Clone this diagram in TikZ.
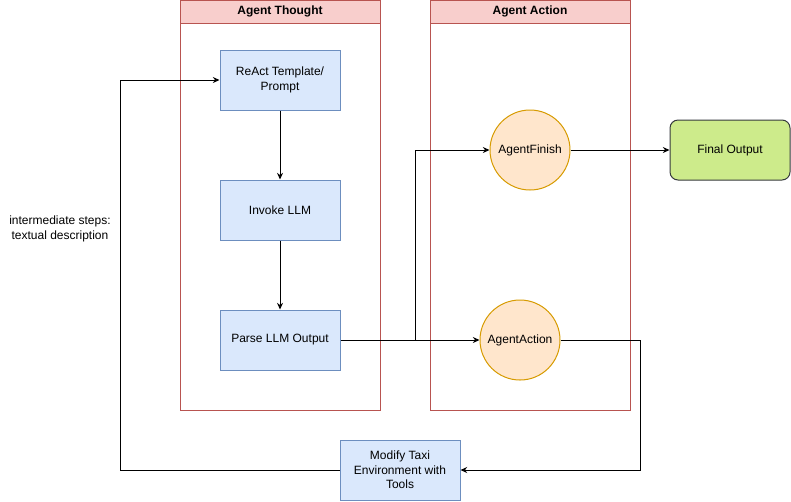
\documentclass[tikz,border=0pt]{standalone}
\usepackage{fontspec}
\setmainfont{Liberation Sans}
\usetikzlibrary{arrows.meta}
\definecolor{boxfill}{HTML}{DAE8FC}
\definecolor{boxline}{HTML}{6C8EBF}
\definecolor{laneline}{HTML}{B85450}
\definecolor{lanehead}{HTML}{F8CECC}
\definecolor{circfill}{HTML}{FFE6CC}
\definecolor{circline}{HTML}{D79B00}
\definecolor{outfill}{HTML}{CDEB8B}
\definecolor{outline}{HTML}{36393D}
\begin{document}
\begin{tikzpicture}[x=0.75pt, y=-0.75pt, font=\fontsize{9}{11}\selectfont,
  lane/.style={draw=laneline, line width=0.75pt, minimum width=150pt, minimum height=307.5pt, inner sep=0pt},
  lanetitle/.style={draw=laneline, fill=lanehead, line width=0.75pt, minimum width=150pt, minimum height=17.25pt, inner sep=0pt, font=\fontsize{9}{11}\selectfont\bfseries},
  stepbox/.style={draw=boxline, fill=boxfill, line width=0.75pt, minimum width=90pt, minimum height=45pt, align=center, inner sep=0pt},
  agentnode/.style={circle, draw=circline, fill=circfill, line width=0.75pt, minimum size=60pt, inner sep=0pt},
  flow/.style={line width=0.75pt, -{Stealth[length=5pt, width=4.5pt]}}]
\useasboundingbox (0,0) rectangle (791,501);
\node[lane] (thought) at (280,205){};
\node[lanetitle] (thoughttitle) at (280,11.5){Agent Thought};
\node[lane] (action) at (530,205){};
\node[lanetitle] (actiontitle) at (530,11.5){Agent Action};
\node[stepbox] (react) at (280,80){ReAct Template/\\Prompt};
\node[stepbox] (invoke) at (280,210){Invoke LLM};
\node[stepbox] (parse) at (280,340){Parse LLM Output};
\node[agentnode] (finish) at (530,150){AgentFinish};
\node[agentnode] (agentact) at (520,340){AgentAction};
\node[stepbox, rounded corners=6pt, draw=outline, fill=outfill] (final) at (730,150){Final Output};
\node[stepbox] (modify) at (400,470){Modify Taxi\\Environment with\\Tools};
\node[align=center] (steps) at (60,229){intermediate steps:\\textual description};
\coordinate (split) at (415,340);
\draw[flow](react) -- (invoke);
\draw[flow](invoke) -- (parse);
\draw[flow](parse) -- (agentact);
\draw[flow](split) |- (finish);
\draw[flow](finish) -- (final);
\draw[flow](agentact.east) -- (640,340) |- (modify.east);
\draw[flow](modify.west) -- (120,470) |- (react.west);
\end{tikzpicture}
\end{document}
